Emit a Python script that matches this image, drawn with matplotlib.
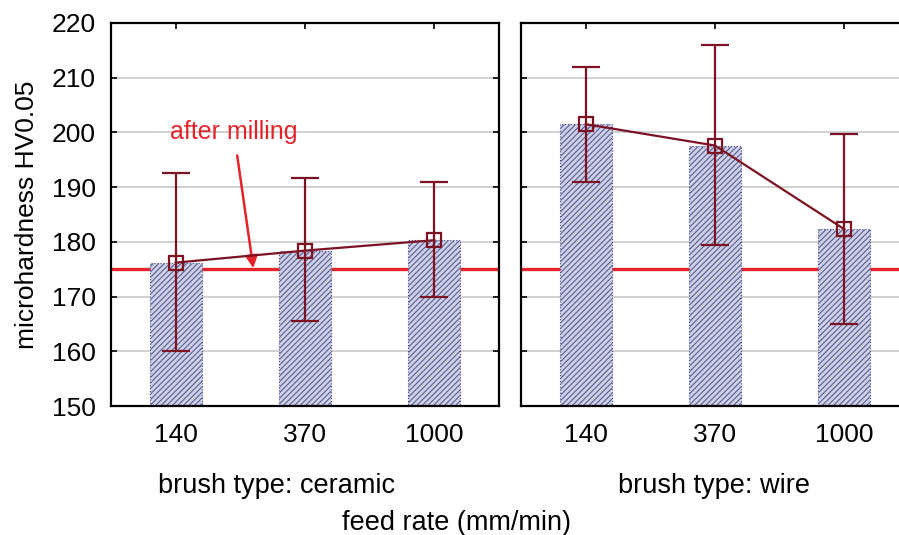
import numpy as np
import matplotlib.pyplot as plt

plt.rcParams['font.family'] = ['Liberation Sans', 'DejaVu Sans']
plt.rcParams['hatch.linewidth'] = 0.7
plt.rcParams['hatch.color'] = '#555a94'

# données
feed = ['140', '370', '1000']
ceramic_mean = [176.2, 178.4, 180.3]
ceramic_low = [160.0, 165.5, 170.0]
ceramic_high = [192.5, 191.7, 191.0]
wire_mean = [201.5, 197.6, 182.3]
wire_low = [191.0, 179.5, 165.0]
wire_high = [212.0, 216.0, 199.7]
after_milling = 175.0

fig = plt.figure(figsize=(8.99, 5.35), dpi=100)
ax1 = fig.add_axes([0.1235, 0.2411, 0.4316, 0.716])
ax2 = fig.add_axes([0.5795, 0.2411, 0.4316, 0.716])

err_col = '#7d1222'


def panel(ax, mean, low, high):
    x = np.arange(len(feed))
    mean = np.array(mean)
    yerr = [mean - np.array(low), np.array(high) - mean]
    ax.axhline(after_milling, color='#e3242b', lw=2.4, zorder=1)
    ax.bar(x, mean, width=0.4, color='#cdd0e6', edgecolor='#4a4f8c',
           hatch='//////', linewidth=0.8, linestyle=':', zorder=2)
    ax.errorbar(x, mean, yerr=yerr, color=err_col, lw=1.6, capsize=10,
                capthick=1.6, marker='s', markersize=9.5, mfc='none',
                mec=err_col, mew=1.6, zorder=3)
    ax.set_xlim(-0.5, 2.5)
    ax.set_ylim(150, 220)
    ax.set_yticks(np.arange(150, 221, 10))
    ax.set_xticks(x)
    ax.set_xticklabels(feed)
    ax.grid(axis='y', color='#c8c8c8', lw=1.2, zorder=0)
    ax.set_axisbelow(True)
    ax.tick_params(direction='in', top=True, right=True, length=4, width=1.2,
                   labelsize=19, pad=12)
    for s in ax.spines.values():
        s.set_linewidth(1.6)


panel(ax1, ceramic_mean, ceramic_low, ceramic_high)
panel(ax2, wire_mean, wire_low, wire_high)
ax2.tick_params(labelleft=False)
ax1.tick_params(axis='y', pad=11)

ax1.set_ylabel('microhardness HV0.05', fontsize=19, labelpad=9)

ax1.annotate('after milling', xy=(0.6, 175.2), xytext=(0.45, 200),
             color='#e3242b', fontsize=18, ha='center', va='center',
             arrowprops=dict(arrowstyle='-|>', color='#e3242b', lw=1.8,
                             mutation_scale=18, shrinkA=6, shrinkB=0))

fig.text(277 / 899, 1 - 486 / 535, 'brush type: ceramic', fontsize=19.5,
         ha='center', va='center')
fig.text(714 / 899, 1 - 486 / 535, 'brush type: wire', fontsize=19.5,
         ha='center', va='center')
fig.text(456 / 899, 1 - 523 / 535, 'feed rate (mm/min)', fontsize=19.5,
         ha='center', va='center')

fig.savefig('out.png', dpi=100)
